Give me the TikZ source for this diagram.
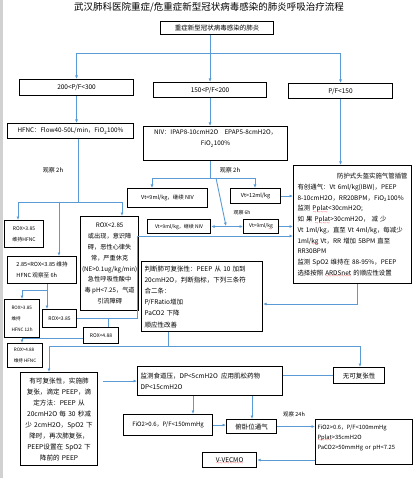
\documentclass[tikz,border=0pt]{standalone}
\usepackage{fontspec}
\setmainfont{Noto Sans CJK SC}
\usetikzlibrary{arrows.meta}
\definecolor{flowblue}{RGB}{91,155,213}
\newcommand{\fs}[2]{\fontsize{#1}{#2}\selectfont}
% red wavy spell-check mark
\newsavebox{\spellbox}
\newcommand{\spell}[1]{\leavevmode\sbox{\spellbox}{#1}\rlap{\raisebox{-2.4pt}[0pt][0pt]{\hbox to \wd\spellbox{\textcolor{red}{\fontsize{3.2}{3.2}\selectfont\xleaders\hbox{～}\hfill}}}}\usebox{\spellbox}}

\begin{document}
\begin{tikzpicture}[x=1pt,y=1pt,yscale=-1,xscale=1,
    box/.style={draw=black,line width=1.1pt,anchor=north west,inner sep=1.5pt,font=\fs{6.5}{11}},
    conn/.style={draw=flowblue,line width=0.9pt},
    arr/.style={conn,-{Latex[length=3.5pt,width=3pt]}},
    arrs/.style={conn,{Latex[length=3.5pt,width=3pt]}-{Latex[length=3.5pt,width=3pt]}},
    note/.style={font=\fs{6}{7}}]
  \useasboundingbox (0,0) rectangle (415,478);
  \fill[white] (0,0) rectangle (415,478);
  \fill[black!18] (0,0) rectangle (2.5,478);

  % Title
  \node[font=\fs{9.5}{11}] (title) at (209,7) {武汉肺科医院重症/危重症新型冠状病毒感染的肺炎呼吸治疗流程};

  % Top boxes
  \node[box,minimum width=113pt,minimum height=13pt] (root) at (160,21) {重症新型冠状病毒感染的肺炎};
  \node[box,minimum width=114pt,minimum height=16pt] (pf1) at (19,79) {200<P/F<300};
  \node[box,minimum width=113pt,minimum height=15pt] (pf2) at (153,82) {150<P/F<200};
  \node[box,minimum width=104pt,minimum height=15pt] (pf3) at (288,83) {P/F<150};

  \node[box,minimum width=126pt,minimum height=15pt,font=\fs{6.3}{11}] (hfnc) at (7,123) {HFNC：Flow40-50L/min，FiO\textsubscript{2}100\%};
  \node[box,minimum width=144pt,minimum height=34pt,align=center,font=\fs{6.3}{11}] (niv) at (143,126) {NIV：IPAP8-10cmH2O\quad EPAP5-8cmH2O，\\FiO\textsubscript{2}100\%\\\mbox{}};

  % Intubation box
  \node[box,minimum width=118pt,minimum height=118pt,text width=110pt,align=left,font=\fs{6.4}{10.7}] (intub) at (293,165) {%
    \hspace*{\fill}防护式头盔实施气管插管\hspace*{\fill}\\
    有创通气：Vt 6ml/kg(IBW)，PEEP\\
    8-10cmH2O，RR20BPM，FiO\textsubscript{2}100\%\\
    监测 \spell{Pplat}<30cmH2O;\\
    \makebox[108pt][s]{如 果 \spell{Pplat}>30cmH2O， 减 少}\\
    Vt 1ml/kg，直至 Vt 4ml/kg，每减少\\
    1ml/\spell{kg} Vt，RR 增加 5BPM 直至\\
    RR30BPM\\
    监测 SpO2 维持在 88-95\%，PEEP\\
    选择按照 \spell{ARDSnet} 的顺应性设置};

  % ROX boxes
  \node[box,minimum width=39pt,minimum height=27pt,align=center,font=\fs{5}{11}] (rox1) at (4,220) {ROX>3.85\\维持HFNC};
  \node[box,minimum width=69pt,minimum height=27pt,align=left,font=\fs{5.6}{11}] (rox2) at (7,256) {2.85<ROX<3.85 维持\\HFNC 观察至 6h};
  \node[box,minimum width=55pt,minimum height=94pt,align=center,font=\fs{6.2}{10.9}] (rox3) at (80,216) {ROX<2.85\\或出现，意识障\\碍，恶性心律失\\常，严重休克\\(NE>0.1ug/kg/min)\\急性呼吸性酸中\\毒 pH<7.25，气道\\引流障碍};
  \node[box,minimum width=35pt,minimum height=38pt,align=left,font=\fs{4.6}{11}] (rox4) at (4,299) {ROX>3.85\\维持\\HFNC 12h};
  \node[box,minimum width=34pt,minimum height=18pt,font=\fs{5}{11}] (rox5) at (42,309) {ROX<3.85};
  \node[box,minimum width=35pt,minimum height=16pt,font=\fs{5}{11}] (rox6) at (83,327) {ROX<4.88};
  \node[box,minimum width=35pt,minimum height=24pt,align=left,font=\fs{4.6}{11}] (rox7) at (7,343) {ROX>4.88\\维持 HFNC};

  % Vt boxes
  \node[box,minimum width=80pt,minimum height=19pt,font=\fs{5.5}{11}] (vt1) at (127,188) {Vt<9ml/kg，继续 NIV};
  \node[box,minimum width=50pt,minimum height=15pt,font=\fs{5.5}{11}] (vt2) at (230,188) {Vt>12ml/kg};
  \node[box,minimum width=63pt,minimum height=14pt,font=\fs{5}{11}] (vt3) at (147,219) {Vt<9ml/kg，继续 NIV};
  \node[box,minimum width=35pt,minimum height=14pt,font=\fs{5}{11}] (vt4) at (243,219) {Vt>9ml/\spell{kg}};

  % Recruitability
  \node[box,minimum width=121pt,minimum height=70pt,text width=115pt,align=left,font=\fs{6.5}{11.2}] (rec) at (141,261) {判断肺可复张性：PEEP 从 10 加到\\20cmH2O，判断指标，下列三条符\\合二条：\\P/FRatio增加\\PaCO2 下降\\顺应性改善};
  \node[box,minimum width=77pt,minimum height=93pt,text width=73pt,align=center,font=\fs{6.6}{11}] (yesrec) at (20,372) {有可复张性，实施肺\\复张，滴定 PEEP，滴\\定方法：PEEP 从\\20cmH2O 每 30 秒减\\少 2cmH2O，SpO2 下\\降时，再次肺复张，\\PEEP设置在 SpO2 下\\降前的 PEEP};
  \node[box,minimum width=51pt,minimum height=16pt] (norec) at (333,367) {无可复张性};
  \node[box,minimum width=145pt,minimum height=29pt,text width=139pt,align=left] (mon) at (137,366) {监测食道压，DP<5cmH2O\enspace 应用肌松药物\\DP<15cmH2O};

  % Bottom boxes
  \node[box,minimum width=89pt,minimum height=21pt,font=\fs{6}{11}] (fio) at (123,414) {FiO2>0.6，P/F<150mmHg};
  \node[box,minimum width=50pt,minimum height=14pt] (prone) at (226,419) {俯卧位通气};
  \node[box,minimum width=97pt,minimum height=45pt,text width=93pt,align=left,font=\fs{5.8}{10}] (crit) at (315,419) {FiO2>0.6，P/F<100mmHg\\\spell{Pplat}>35cmH2O\\PaCO2>50mmHg or pH<7.25\\\mbox{}};
  \node[box,minimum width=54pt,minimum height=15pt] (ecmo) at (202,452) {\spell{V-VECMO}};

  % Text Node
  \node[note] (obs1) at (53,170) {观察 2h};
  \node[note] (obs2) at (230,170) {观察 2h};
  \node[note,font=\fs{5}{6}] (obs3) at (242,213) {观察 6h};
  \node[note,font=\fs{5.5}{6}] (obs4) at (294,414) {观察 24h};

  % Connectors: top split
  \coordinate (s0) at (210,53);
  \draw[conn] (root.south -| s0) -- (s0);
  \draw[conn] (s0 -| pf1.north) -- (s0 -| pf3.north);
  \foreach \n in {pf1,pf2,pf3}
    \draw[arr] (s0 -| \n.north) -- (\n.north);
  \draw[arr] (pf1.south) -- (pf1.south |- hfnc.north);
  \draw[arr] (pf2.south) -- (pf2.south |- niv.north);
  \draw[arr] (pf3.south) -- (pf3.south |- intub.north);

  % HFNC branch
  \coordinate (s1) at (78,202);
  \coordinate (s1a) at (18,202);
  \coordinate (s1b) at (59,202);
  \coordinate (s1c) at (122,202);
  \draw[conn] (hfnc.south -| s1) -- (s1);
  \draw[conn] (s1a) -- (s1c);
  \draw[arr] (s1a) -- (s1a |- rox1.north);
  \draw[arr] (s1b) -- (s1b |- rox2.north);
  \draw[arr] (s1c) -- (s1c |- rox3.north);

  % NIV branch
  \coordinate (s2) at (210,178);
  \coordinate (s2a) at (152,178);
  \coordinate (s2b) at (255,178);
  \coordinate (s2c) at (216,178);
  \coordinate (m6) at (226,226);
  \draw[conn] (niv.south -| s2) -- (s2);
  \draw[conn] (s2a) -- (s2b);
  \draw[arr] (s2a) -- (s2a |- vt1.north);
  \draw[arr] (s2b) -- (s2b |- vt2.north);
  \draw[arr] (s2c) -- (m6);
  \draw[arrs] (vt3.east) -- (vt4.west);
  \draw[arr] (vt2.east) -- (vt2.east -| intub.west);
  \draw[arr] (vt4.east) -- (vt4.east -| intub.west);

  % to intubation
  \coordinate (s3) at (137,236);
  \coordinate (s4) at (108,318);
  \draw[conn] (s3 -| rox3.east) -- (s3);
  \draw[arr] (s3) -- (s3 -| intub.west);
  \draw[conn] (s3) |- (rox5.east);
  \draw[conn] (s4) -- (s4 |- rox6.north);

  % ROX follow-up
  \coordinate (s5a) at (22,290);
  \coordinate (s5b) at (47,290);
  \draw[conn] (rox2.south -| s5b) -- (s5b) -- (s5a);
  \draw[arr] (s5a) -- (s5a |- rox4.north);
  \draw[arr] (s5b) -- (s5b |- rox5.north);
  \coordinate (s6) at (22,338);
  \draw[conn] (rox4.south -| s6) -- (s6) -- (s6 -| rox6.west);
  \draw[arr] (s6) -- (s6 |- rox7.north);

  % recruitability
  \coordinate (s7) at (357,304);
  \draw[arr] (intub.south -| s7) -- (s7) -- (s7 -| rec.east);
  \coordinate (s8) at (168,346);
  \coordinate (s8a) at (49,346);
  \coordinate (s8b) at (360,346);
  \draw[conn] (rec.south -| s8) -- (s8);
  \draw[conn] (s8a) -- (s8b);
  \draw[arr] (s8a) -- (s8a |- yesrec.north);
  \draw[arr] (s8b) -- (s8b |- norec.north);
  \draw[arr,shorten <=5pt] (yesrec.east |- mon.west) -- (mon.west);
  \draw[conn] (norec.west) -- (norec.west -| mon.east);

  % bottom
  \coordinate (s9a) at (193,400);
  \coordinate (s9b) at (252,400);
  \draw[arr] (mon.south -| s9a) -- (fio.north -| s9a);
  \draw[arr] (mon.south -| s9b) -- (prone.north -| s9b);
  \draw[arr] (fio.east) -- (fio.east -| prone.west);
  \draw[arr] (prone.east) -- (prone.east -| crit.west);
  \draw[arr] (crit.west |- ecmo.east) -- (ecmo.east);
\end{tikzpicture}
\end{document}
